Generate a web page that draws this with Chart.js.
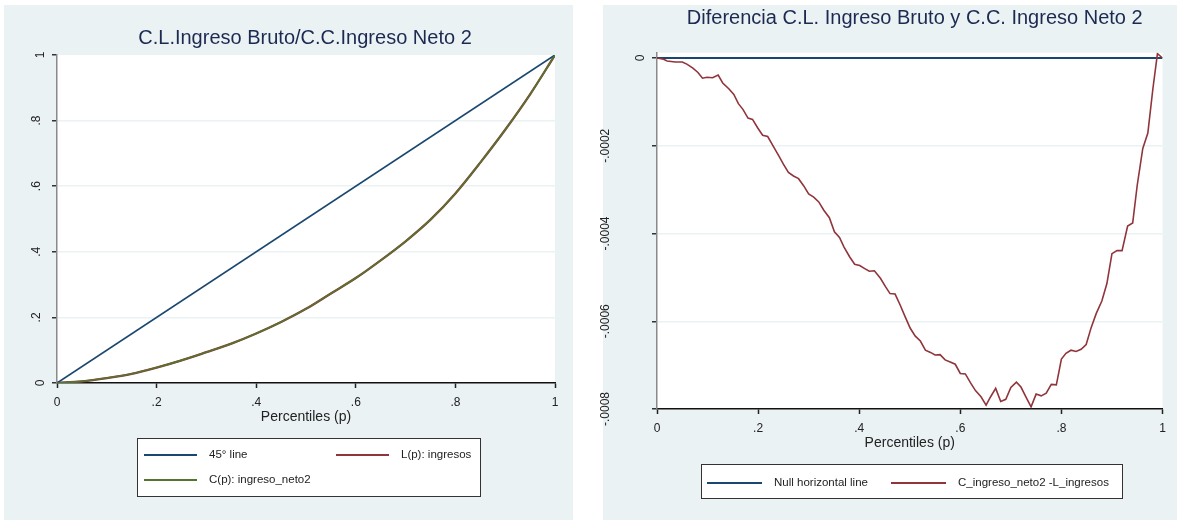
<!DOCTYPE html>
<html>
<head>
<meta charset="utf-8">
<script src="https://cdn.jsdelivr.net/npm/chart.js@4.4.1/dist/chart.umd.min.js"></script>
<style>
body { margin: 0; background: #fff; width: 1177px; height: 521px; overflow: hidden; position: relative; }
.panel { position: absolute; background: #eaf2f3; }
#bgLeft { left: 4px; top: 5px; width: 569px; height: 515px; }
#bgRight { left: 603px; top: 5px; width: 574px; height: 515px; }
.box { position: absolute; }
#boxLeft { left: 0; top: 0; width: 580px; height: 521px; }
#boxRight { left: 590px; top: 0; width: 587px; height: 521px; }
</style>
</head>
<body>
<div class="panel" id="bgLeft"></div>
<div class="panel" id="bgRight"></div>
<div class="box" id="boxLeft"><canvas id="lorenzChart"></canvas></div>
<div class="box" id="boxRight"><canvas id="diffChart"></canvas></div>
<script>
const FONT = '"Liberation Sans", Arial, Helvetica, sans-serif';

// ==========================
// Data
// ==========================
const xTickValues = [0, 0.2, 0.4, 0.6, 0.8, 1];
const xTickLabels = ['0', '.2', '.4', '.6', '.8', '1'];

// left chart
const lorenzTickValues = [0, 0.2, 0.4, 0.6, 0.8, 1];
const lorenzTickLabels = ['0', '.2', '.4', '.6', '.8', '1'];
const pctDiag = [0, 1];
const diagValues = [0, 1];
const pctCurve = [0, 0.05, 0.1, 0.15, 0.2, 0.25, 0.3, 0.35, 0.4, 0.45, 0.5, 0.55, 0.6, 0.65, 0.7, 0.75, 0.8, 0.85, 0.9, 0.95, 1];
const lorenzIngresos = [0, 0.005, 0.015, 0.028, 0.047, 0.069, 0.094, 0.12, 0.151, 0.186, 0.226, 0.273, 0.32, 0.374, 0.432, 0.498, 0.578, 0.672, 0.772, 0.88, 1];
const concIngresoNeto2 = [0, 0.005, 0.015, 0.028, 0.047, 0.069, 0.094, 0.12, 0.151, 0.186, 0.226, 0.273, 0.32, 0.374, 0.432, 0.498, 0.578, 0.672, 0.772, 0.88, 1];

// right chart
const diffTickValues = [-0.0008, -0.0006, -0.0004, -0.0002, 0];
const diffTickLabels = ['-.0008', '-.0006', '-.0004', '-.0002', '0'];
const pctNull = [0, 1];
const nullValues = [0, 0];
const pctDiff = [0, 0.013, 0.02, 0.036, 0.05, 0.059, 0.071, 0.081, 0.09, 0.099,
  0.11, 0.121, 0.13, 0.142, 0.152, 0.161, 0.17, 0.18, 0.189, 0.199,
  0.209, 0.219, 0.231, 0.241, 0.25, 0.26, 0.27, 0.28, 0.29, 0.30,
  0.31, 0.32, 0.33, 0.341, 0.351, 0.361, 0.37, 0.381, 0.391, 0.401,
  0.411, 0.42, 0.43, 0.442, 0.452, 0.461, 0.471, 0.481, 0.491, 0.501,
  0.511, 0.521, 0.531, 0.541, 0.55, 0.56, 0.57, 0.58, 0.59, 0.60,
  0.61, 0.62, 0.63, 0.641, 0.651, 0.66, 0.67, 0.68, 0.69, 0.70,
  0.711, 0.72, 0.73, 0.74, 0.75, 0.76, 0.77, 0.78, 0.79, 0.80,
  0.809, 0.819, 0.829, 0.839, 0.849, 0.859, 0.869, 0.88, 0.89, 0.90,
  0.91, 0.92, 0.931, 0.941, 0.95, 0.961, 0.971, 0.981, 0.99, 1.0];
const diffValues = [0, -3e-6, -6.8e-6, -9e-6, -9e-6, -14e-6, -23e-6, -33e-6, -46e-6, -44e-6,
  -45e-6, -39e-6, -57e-6, -70e-6, -83e-6, -104e-6, -117e-6, -137e-6, -140e-6, -159e-6,
  -176e-6, -179e-6, -203e-6, -223e-6, -242e-6, -261e-6, -269e-6, -275e-6, -291e-6, -310e-6,
  -317e-6, -328e-6, -347e-6, -364e-6, -396e-6, -409e-6, -431e-6, -453e-6, -470e-6, -473e-6,
  -480e-6, -486e-6, -485e-6, -502e-6, -521e-6, -537e-6, -538e-6, -563e-6, -590e-6, -616e-6,
  -634e-6, -645e-6, -666e-6, -671e-6, -677e-6, -676e-6, -688e-6, -693e-6, -698e-6, -719e-6,
  -720e-6, -740e-6, -758e-6, -772e-6, -791e-6, -772e-6, -753e-6, -783e-6, -778e-6, -751e-6,
  -739e-6, -750e-6, -773e-6, -795e-6, -766e-6, -770e-6, -764e-6, -744e-6, -745e-6, -686e-6,
  -673e-6, -666e-6, -669e-6, -664e-6, -653e-6, -614e-6, -582e-6, -554e-6, -514e-6, -446e-6,
  -439e-6, -439e-6, -383e-6, -376e-6, -290e-6, -206e-6, -171e-6, -70e-6, 10e-6, 0];

const NAVY = '#1a476f', MAROON = '#90353b', GREEN = '#55752f';

function toPoints(xs, ys) {
    return xs.map((x, i) => ({ x, y: ys[i] }));
}

// ==========================
// Stata-style decorations: plot region, title, rotated y labels, legend
// ==========================
const stataPanel = {
    id: 'stataPanel',
    beforeDraw(chart) {
        const { ctx, chartArea: a } = chart;
        ctx.save();
        ctx.fillStyle = '#ffffff';
        ctx.fillRect(a.left, a.top, a.right - a.left, a.bottom - a.top);
        ctx.restore();
    },
    afterDraw(chart, args, opts) {
        const { ctx, chartArea: a } = chart;
        const yScale = chart.scales.y;
        ctx.save();

        // title
        ctx.font = '20px ' + FONT;
        ctx.fillStyle = '#1c2a52';
        ctx.textAlign = 'center';
        ctx.textBaseline = 'middle';
        ctx.fillText(opts.title, (a.left + a.right) / 2 + opts.titleDx, opts.titleY);

        // y tick labels, rotated like Stata
        ctx.font = '12px ' + FONT;
        ctx.fillStyle = '#222';
        const w0 = ctx.measureText('0').width;
        yScale.ticks.forEach((t, i) => {
            const label = opts.yLabels[i];
            const w = ctx.measureText(label).width;
            const cx = a.left - 16 - 1.3 * (w - w0);
            const cy = yScale.getPixelForValue(t.value);
            ctx.save();
            ctx.translate(cx, cy);
            ctx.rotate(-Math.PI / 2);
            ctx.fillText(label, 0, 0);
            ctx.restore();
        });

        // legend
        const lg = opts.legend;
        ctx.fillStyle = '#ffffff';
        ctx.fillRect(lg.box[0], lg.box[1], lg.box[2], lg.box[3]);
        ctx.strokeStyle = '#333';
        ctx.lineWidth = 1;
        ctx.strokeRect(lg.box[0] + 0.5, lg.box[1] + 0.5, lg.box[2], lg.box[3]);
        ctx.font = '11.5px ' + FONT;
        ctx.textAlign = 'left';
        lg.items.forEach(item => {
            const ds = chart.data.datasets[item.ds];
            ctx.strokeStyle = ds.borderColor;
            ctx.lineWidth = 1.8;
            ctx.beginPath();
            ctx.moveTo(item.x, item.y);
            ctx.lineTo(item.x + lg.lineLen, item.y);
            ctx.stroke();
            ctx.fillStyle = '#222';
            ctx.fillText(ds.label, item.x + lg.textGap, item.y);
        });
        ctx.restore();
    }
};

function xAxis() {
    return {
        type: 'linear', min: 0, max: 1,
        afterBuildTicks: s => { s.ticks = xTickValues.map(v => ({ value: v })); },
        afterFit: s => { s.height = 42.4; },
        ticks: { callback: (v, i) => xTickLabels[i], padding: 7, maxRotation: 0, font: { size: 12 }, color: '#222' },
        grid: { drawOnChartArea: false, tickLength: 5, tickColor: '#222', tickWidth: 1.5 },
        border: { color: '#111', width: 1.5 },
        title: { display: true, text: 'Percentiles (p)', font: { size: 14 }, color: '#222', padding: 0 }
    };
}

function yAxis(min, max, values) {
    const lo = values[0], hi = values[values.length - 1];
    return {
        type: 'linear', min, max,
        afterBuildTicks: s => { s.ticks = values.map(v => ({ value: v })); },
        afterFit: s => { s.width = 6; },
        ticks: { display: false },
        grid: {
            color: c => (c.tick && c.tick.value > lo && c.tick.value < hi) ? '#eaf2f3' : 'rgba(0,0,0,0)',
            lineWidth: 1.5, tickLength: 5, tickColor: '#333', tickWidth: 1.5
        },
        border: { color: '#8a8a8a', width: 1.5 }
    };
}

// ==========================
// Charts
// ==========================
function initCharts() {
    Chart.defaults.font.family = FONT;

    new Chart(document.getElementById('lorenzChart'), {
        type: 'line',
        data: {
            datasets: [
                { label: '45° line', data: toPoints(pctDiag, diagValues), borderColor: NAVY, borderWidth: 1.7, pointRadius: 0, order: 1 },
                { label: 'L(p): ingresos', data: toPoints(pctCurve, lorenzIngresos), borderColor: MAROON, borderWidth: 2.3, pointRadius: 0, cubicInterpolationMode: 'monotone', order: 2 },
                { label: 'C(p): ingreso_neto2', data: toPoints(pctCurve, concIngresoNeto2), borderColor: GREEN, borderWidth: 1.6, pointRadius: 0, cubicInterpolationMode: 'monotone', order: 0 }
            ]
        },
        options: {
            responsive: true, maintainAspectRatio: false, animation: false,
            layout: { padding: { left: 51, right: 25, top: 55, bottom: 95.6 } },
            scales: { x: xAxis(), y: yAxis(0, 1, lorenzTickValues) },
            plugins: {
                legend: { display: false }, tooltip: { enabled: false },
                stataPanel: {
                    title: 'C.L.Ingreso Bruto/C.C.Ingreso Neto 2', titleY: 38, titleDx: -1,
                    yLabels: lorenzTickLabels,
                    legend: {
                        box: [137, 438, 343, 58], lineLen: 53, textGap: 65,
                        items: [{ ds: 0, x: 144, y: 455 }, { ds: 1, x: 336, y: 455 }, { ds: 2, x: 144, y: 480 }]
                    }
                }
            }
        },
        plugins: [stataPanel]
    });

    new Chart(document.getElementById('diffChart'), {
        type: 'line',
        data: {
            datasets: [
                { label: 'Null horizontal line', data: toPoints(pctNull, nullValues), borderColor: NAVY, borderWidth: 1.8, pointRadius: 0, order: 1 },
                { label: 'C_ingreso_neto2 -L_ingresos', data: toPoints(pctDiff, diffValues), borderColor: MAROON, borderWidth: 1.6, pointRadius: 0, tension: 0, order: 0 }
            ]
        },
        options: {
            responsive: true, maintainAspectRatio: false, animation: false,
            layout: { padding: { left: 61, right: 14.5, top: 52.7, bottom: 69.6 } },
            scales: { x: xAxis(), y: yAxis(-0.0008, 0.0000121, diffTickValues) },
            plugins: {
                legend: { display: false }, tooltip: { enabled: false },
                stataPanel: {
                    title: 'Diferencia C.L. Ingreso Bruto y C.C. Ingreso Neto 2', titleY: 18, titleDx: 5,
                    yLabels: diffTickLabels,
                    legend: {
                        box: [111, 464, 421, 34], lineLen: 55, textGap: 67,
                        items: [{ ds: 0, x: 117, y: 483 }, { ds: 1, x: 301, y: 483 }]
                    }
                }
            }
        },
        plugins: [stataPanel]
    });
}

window.addEventListener('DOMContentLoaded', initCharts);
</script>
</body>
</html>
